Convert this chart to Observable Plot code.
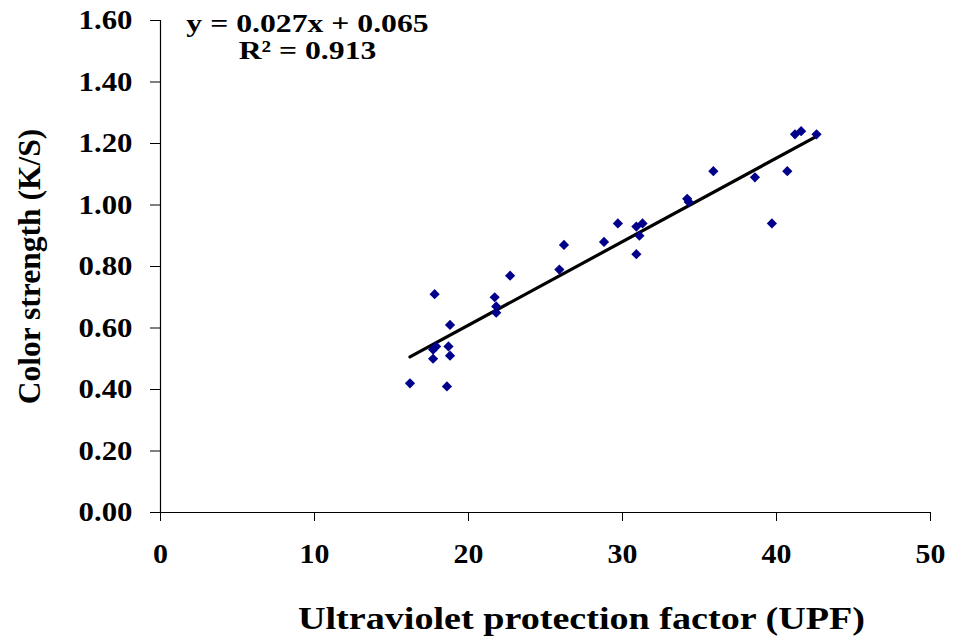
<!DOCTYPE html>
<html>
<head>
<meta charset="utf-8">
<script src="https://cdn.jsdelivr.net/npm/d3@7"></script>
<script src="https://cdn.jsdelivr.net/npm/@observablehq/plot@0.6"></script>
<style>
  html, body { margin: 0; padding: 0; background: #fff; }
</style>
</head>
<body>
<script>
// UPF (x) and colour strength K/S (y)
const upf = [16.2, 17.8, 18.8, 21.7, 21.8, 21.8, 22.7, 17.7, 17.9, 18.7, 17.7, 18.8, 18.6,
             25.9, 26.2, 28.8, 29.7, 30.9, 31.3, 31.1, 30.9, 34.2, 34.3, 35.9, 38.6, 39.7,
             40.7, 41.2, 41.6, 42.6];
const ks  = [0.42, 0.71, 0.61, 0.70, 0.67, 0.65, 0.77, 0.53, 0.54, 0.54, 0.50, 0.51, 0.41,
             0.79, 0.87, 0.88, 0.94, 0.93, 0.94, 0.90, 0.84, 1.02, 1.01, 1.11, 1.09, 0.94,
             1.11, 1.23, 1.24, 1.23];
const xTicks = [0, 10, 20, 30, 40, 50];
const yTicks = [0, 0.2, 0.4, 0.6, 0.8, 1.0, 1.2, 1.4, 1.6];
const equationLines = ["y = 0.027x + 0.065", "R² = 0.913"];
const xTitle = "Ultraviolet protection factor (UPF)";
const yTitle = "Color strength (K/S)";

const points = upf.map((x, i) => ({x, y: ks[i]}));

const chart = Plot.plot({
  width: 953,
  height: 642,
  marginLeft: 160,
  marginRight: 23,
  marginTop: 20,
  marginBottom: 130,
  style: {fontFamily: "'Liberation Serif', 'Times New Roman', serif", fontWeight: "bold", color: "#000", background: "#fff", overflow: "visible"},
  x: {domain: [0, 50]},
  y: {domain: [0, 1.6]},
  marks: [
    Plot.axisX({ticks: xTicks, tickSize: 9, tickPadding: 23, label: null, fontSize: 26.5, tickFormat: d3.format("d")}),
    Plot.axisY({ticks: yTicks, tickSize: 10, tickPadding: 18, label: null, fontSize: 27, tickFormat: d3.format(".2f")}),
    Plot.ruleX([0], {stroke: "#000", strokeWidth: 1.2}),
    Plot.ruleY([0], {stroke: "#000", strokeWidth: 1.2}),
    Plot.linearRegressionY(points, {x: "x", y: "y", ci: 0, stroke: "#000", strokeWidth: 3.2}),
    Plot.dot(points, {x: "x", y: "y", symbol: "diamond2", r: 4.6, fill: "#00008b", stroke: "none"}),
    Plot.text([equationLines[0]], {text: d => d, frameAnchor: "top-left", dx: 147, dy: 3.5, lineAnchor: "middle", textAnchor: "middle", fontSize: 26}),
    Plot.text([equationLines[1]], {text: d => d, frameAnchor: "top-left", dx: 147, dy: 30, lineAnchor: "middle", textAnchor: "middle", fontSize: 26}),
    Plot.text([xTitle], {text: d => d, frameAnchor: "bottom", dx: 36, dy: 107, lineAnchor: "middle", textAnchor: "middle", fontSize: 30.5}),
    Plot.text([yTitle], {text: d => d, frameAnchor: "left", dx: -131, rotate: -90, lineAnchor: "middle", textAnchor: "middle", fontSize: 31.5})
  ]
});
document.body.append(chart);

// the source picture is stretched horizontally; widen horizontal texts to match
function widen(t, k) {
  const w = t.getComputedTextLength();
  t.setAttribute("textLength", (w * k).toFixed(1));
  t.setAttribute("lengthAdjust", "spacingAndGlyphs");
}
chart.querySelectorAll('g[aria-label="x-axis tick label"] text').forEach(t => widen(t, 1.13));
chart.querySelectorAll('g[aria-label="y-axis tick label"] text').forEach(t => widen(t, 1.14));
const byContent = new Map([[equationLines[0], 1.22], [equationLines[1], 1.22], [xTitle, 1.25]]);
chart.querySelectorAll('g[aria-label="text"] text').forEach(t => {
  const k = byContent.get(t.textContent);
  if (k) widen(t, k);
});
</script>
</body>
</html>
